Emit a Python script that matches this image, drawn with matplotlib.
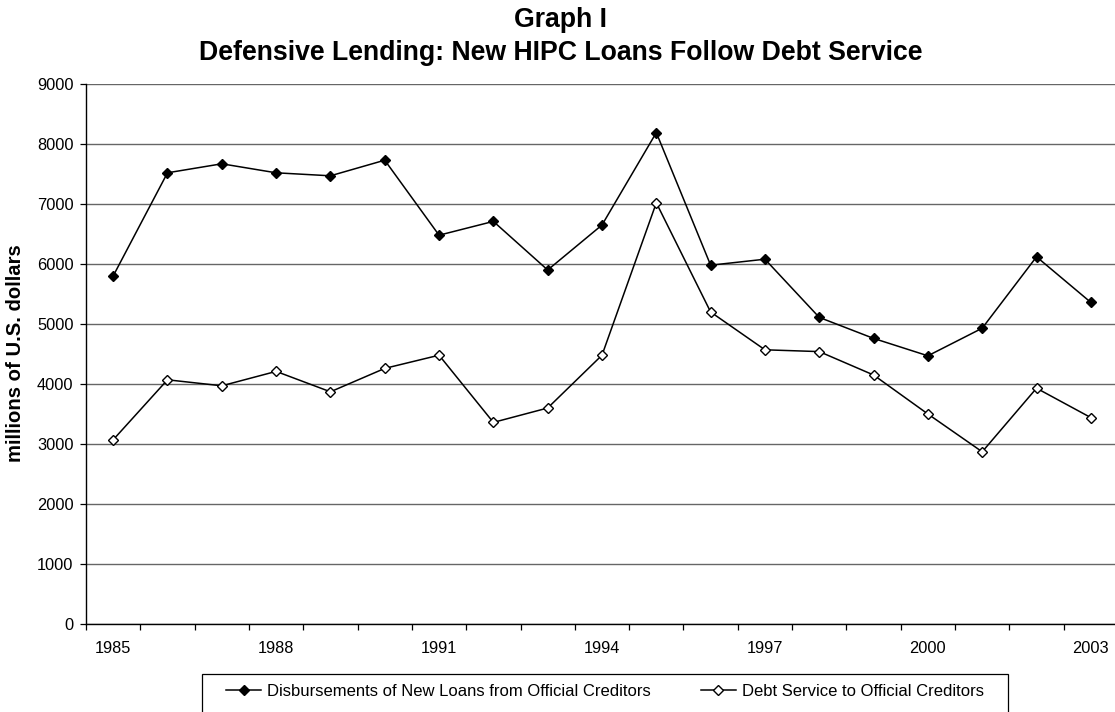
import matplotlib
matplotlib.use("Agg")
import matplotlib.pyplot as plt
from matplotlib.patches import Rectangle

plt.rcParams['font.family'] = ['Liberation Sans', 'DejaVu Sans']

# donnees (millions de dollars US)
years = list(range(1985, 2004))
disbursements = [5800, 7520, 7670, 7520, 7470, 7730, 6480, 6710, 5900, 6650,
                 8190, 5980, 6080, 5110, 4760, 4470, 4930, 6120, 5360]
debt_service = [3070, 4070, 3970, 4210, 3870, 4260, 4480, 3360, 3600, 4480,
                7020, 5200, 4570, 4540, 4150, 3500, 2870, 3930, 3440]
shown_years = [1985, 1988, 1991, 1994, 1997, 2000, 2003]

W, H = 1115, 712
fig = plt.figure(figsize=(W / 100, H / 100), dpi=100)
ax = fig.add_axes([86 / W, 1 - 624 / H, (1118 - 86) / W, 540 / H])

x = list(range(len(years)))
l1, = ax.plot(x, disbursements, color='black', linewidth=1.1, marker='D',
              markersize=5.5, markerfacecolor='black', markeredgecolor='black',
              label='Disbursements of New Loans from Official Creditors', zorder=3)
l2, = ax.plot(x, debt_service, color='black', linewidth=1.1, marker='D',
              markersize=5.5, markerfacecolor='white', markeredgecolor='black',
              markeredgewidth=1.0,
              label='Debt Service to Official Creditors', zorder=3)

ax.set_xlim(-0.5, len(years) - 0.5)
ax.set_ylim(0, 9000)
ax.set_yticks(range(0, 9001, 1000))
ax.yaxis.grid(True, color='#666666', linewidth=1.0)
ax.set_axisbelow(True)

ax.set_xticks([years.index(y) for y in shown_years])
ax.set_xticklabels([str(y) for y in shown_years])
ax.set_xticks([i - 0.5 for i in range(len(years) + 1)], minor=True)
ax.tick_params(axis='x', which='major', length=0, pad=12, labelsize=11.8)
ax.tick_params(axis='x', which='minor', length=4, width=0.9, direction='out')
ax.tick_params(axis='y', length=4, width=0.9, pad=5, labelsize=11.8)

for s in ['top', 'right']:
    ax.spines[s].set_visible(False)
ax.spines['left'].set_linewidth(1.0)
ax.spines['bottom'].set_linewidth(1.0)

fig.text(16 / W, 1 - 353 / H, 'millions of U.S. dollars', rotation=90,
         ha='center', va='center', fontsize=14.6, fontweight='bold')
fig.text(561 / W, 1 - 27 / H, 'Graph I', ha='center', va='baseline',
         fontsize=19.2, fontweight='bold')
fig.text(561 / W, 1 - 60 / H, 'Defensive Lending: New HIPC Loans Follow Debt Service',
         ha='center', va='baseline', fontsize=19.2, fontweight='bold')

# legende avec cadre
fig.patches.append(Rectangle((201.7 / W, -0.02), (1008 - 201.7) / W, 0.02 + 1 - 674.3 / H,
                             transform=fig.transFigure, facecolor='white',
                             edgecolor='black', linewidth=0.9, zorder=0))
fig.legend(handles=[l1, l2], loc='center left', bbox_to_anchor=(226 / W, 1 - 691 / H),
           ncol=2, frameon=False, borderpad=0, borderaxespad=0, handlelength=2.1,
           handletextpad=0.36, columnspacing=3.0, fontsize=12)

plt.savefig('out.png', dpi=100)
